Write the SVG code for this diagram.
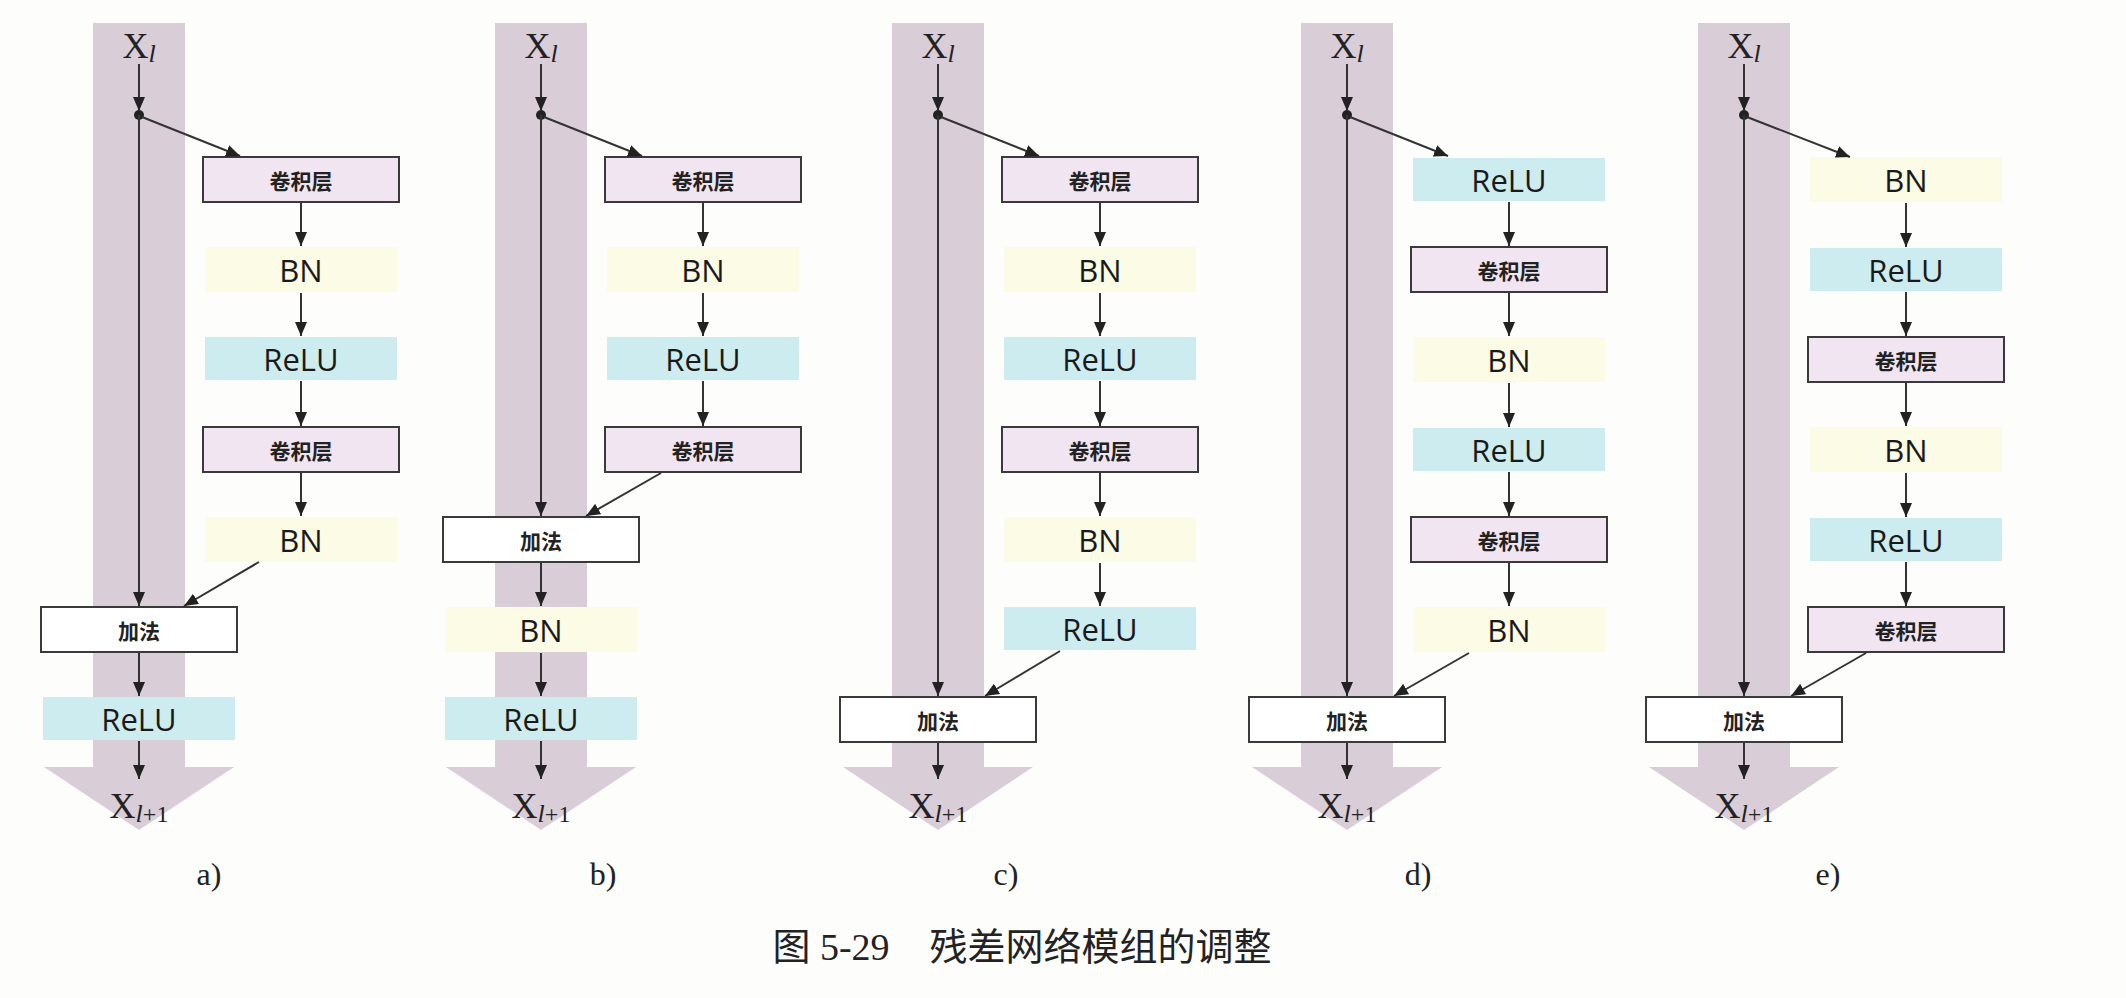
<svg xmlns="http://www.w3.org/2000/svg" width="2126" height="998" viewBox="0 0 2126 998">
<style>
.col{fill:#d9cdd8}
.conv{fill:#f0e5f0;stroke:#3a3a3a;stroke-width:2}
.add{fill:#ffffff;stroke:#3a3a3a;stroke-width:2}
.relu{fill:#cdecf0}
.bn{fill:#fbfbe6}
.cj{font-family:"Noto Sans CJK SC",sans-serif;font-weight:bold;font-size:21px;fill:#222;text-anchor:middle;dominant-baseline:central}
.en{font-family:"Open Sans","Noto Sans",sans-serif;font-size:31px;fill:#1a1a1a;text-anchor:middle;dominant-baseline:central}
.x{font-family:"Liberation Serif",serif;font-size:36px;fill:#222;text-anchor:middle}
.lab{font-family:"Liberation Serif",serif;font-size:32px;fill:#222;text-anchor:middle}
.ln{stroke:#333;stroke-width:2;fill:none;marker-end:url(#ah)}
.tit{font-family:"Liberation Serif","Noto Sans CJK SC",serif;font-size:38px;fill:#222;text-anchor:middle}
</style>
<defs>
<marker id="ah" viewBox="0 0 14 12" markerWidth="14" markerHeight="12" refX="14" refY="6" orient="auto" markerUnits="userSpaceOnUse"><path d="M0,0 L14,6 L0,12 z" fill="#222"/></marker>
</defs>
<rect width="2126" height="998" fill="#fdfdfc"/>

<g id="panel-a">
<rect class="col" x="93" y="23" width="92" height="744"/>
<polygon class="col" points="44,767 234,767 139,830"/>
<text class="x" x="139" y="58">X<tspan font-style="italic" font-size="26" dy="4">l</tspan></text>
<circle cx="139" cy="115" r="5" fill="#222"/>
<g id="a-conv1"><rect class="conv" x="203" y="157" width="196" height="45"/><text class="cj" x="301" y="180">卷积层</text></g>
<g id="a-bn1"><rect class="bn" x="205" y="247" width="192" height="45"/><text class="en" x="301" y="270">BN</text></g>
<g id="a-relu1"><rect class="relu" x="205" y="337" width="192" height="43"/><text class="en" x="301" y="359">ReLU</text></g>
<g id="a-conv2"><rect class="conv" x="203" y="427" width="196" height="45"/><text class="cj" x="301" y="450">卷积层</text></g>
<g id="a-bn2"><rect class="bn" x="205" y="517" width="192" height="45"/><text class="en" x="301" y="540">BN</text></g>
<g id="a-add"><rect class="add" x="41" y="607" width="196" height="45"/><text class="cj" x="139" y="630">加法</text></g>
<g id="a-relu2"><rect class="relu" x="43" y="697" width="192" height="43"/><text class="en" x="139" y="719">ReLU</text></g>
<text class="x" x="139" y="818">X<tspan font-style="italic" font-size="26" dy="4">l</tspan><tspan font-size="24">+1</tspan></text>
<text class="lab" x="209" y="885">a)</text>
</g>

<g id="panel-b">
<rect class="col" x="495" y="23" width="92" height="744"/>
<polygon class="col" points="446,767 636,767 541,830"/>
<text class="x" x="541" y="58">X<tspan font-style="italic" font-size="26" dy="4">l</tspan></text>
<circle cx="541" cy="115" r="5" fill="#222"/>
<g id="b-conv1"><rect class="conv" x="605" y="157" width="196" height="45"/><text class="cj" x="703" y="180">卷积层</text></g>
<g id="b-bn1"><rect class="bn" x="607" y="247" width="192" height="45"/><text class="en" x="703" y="270">BN</text></g>
<g id="b-relu1"><rect class="relu" x="607" y="337" width="192" height="43"/><text class="en" x="703" y="359">ReLU</text></g>
<g id="b-conv2"><rect class="conv" x="605" y="427" width="196" height="45"/><text class="cj" x="703" y="450">卷积层</text></g>
<g id="b-add"><rect class="add" x="443" y="517" width="196" height="45"/><text class="cj" x="541" y="540">加法</text></g>
<g id="b-bn2"><rect class="bn" x="445" y="607" width="192" height="45"/><text class="en" x="541" y="630">BN</text></g>
<g id="b-relu2"><rect class="relu" x="445" y="697" width="192" height="43"/><text class="en" x="541" y="719">ReLU</text></g>
<text class="x" x="541" y="818">X<tspan font-style="italic" font-size="26" dy="4">l</tspan><tspan font-size="24">+1</tspan></text>
<text class="lab" x="603" y="885">b)</text>
</g>

<g id="panel-c">
<rect class="col" x="892" y="23" width="92" height="744"/>
<polygon class="col" points="843,767 1033,767 938,830"/>
<text class="x" x="938" y="58">X<tspan font-style="italic" font-size="26" dy="4">l</tspan></text>
<circle cx="938" cy="115" r="5" fill="#222"/>
<g id="c-conv1"><rect class="conv" x="1002" y="157" width="196" height="45"/><text class="cj" x="1100" y="180">卷积层</text></g>
<g id="c-bn1"><rect class="bn" x="1004" y="247" width="192" height="45"/><text class="en" x="1100" y="270">BN</text></g>
<g id="c-relu1"><rect class="relu" x="1004" y="337" width="192" height="43"/><text class="en" x="1100" y="359">ReLU</text></g>
<g id="c-conv2"><rect class="conv" x="1002" y="427" width="196" height="45"/><text class="cj" x="1100" y="450">卷积层</text></g>
<g id="c-bn2"><rect class="bn" x="1004" y="517" width="192" height="45"/><text class="en" x="1100" y="540">BN</text></g>
<g id="c-relu2"><rect class="relu" x="1004" y="607" width="192" height="43"/><text class="en" x="1100" y="629">ReLU</text></g>
<g id="c-add"><rect class="add" x="840" y="697" width="196" height="45"/><text class="cj" x="938" y="720">加法</text></g>
<text class="x" x="938" y="818">X<tspan font-style="italic" font-size="26" dy="4">l</tspan><tspan font-size="24">+1</tspan></text>
<text class="lab" x="1006" y="885">c)</text>
</g>

<g id="panel-d">
<rect class="col" x="1301" y="23" width="92" height="744"/>
<polygon class="col" points="1252,767 1442,767 1347,830"/>
<text class="x" x="1347" y="58">X<tspan font-style="italic" font-size="26" dy="4">l</tspan></text>
<circle cx="1347" cy="115" r="5" fill="#222"/>
<g id="d-relu1"><rect class="relu" x="1413" y="158" width="192" height="43"/><text class="en" x="1509" y="180">ReLU</text></g>
<g id="d-conv1"><rect class="conv" x="1411" y="247" width="196" height="45"/><text class="cj" x="1509" y="270">卷积层</text></g>
<g id="d-bn1"><rect class="bn" x="1413" y="337" width="192" height="45"/><text class="en" x="1509" y="360">BN</text></g>
<g id="d-relu2"><rect class="relu" x="1413" y="428" width="192" height="43"/><text class="en" x="1509" y="450">ReLU</text></g>
<g id="d-conv2"><rect class="conv" x="1411" y="517" width="196" height="45"/><text class="cj" x="1509" y="540">卷积层</text></g>
<g id="d-bn2"><rect class="bn" x="1413" y="607" width="192" height="45"/><text class="en" x="1509" y="630">BN</text></g>
<g id="d-add"><rect class="add" x="1249" y="697" width="196" height="45"/><text class="cj" x="1347" y="720">加法</text></g>
<text class="x" x="1347" y="818">X<tspan font-style="italic" font-size="26" dy="4">l</tspan><tspan font-size="24">+1</tspan></text>
<text class="lab" x="1418" y="885">d)</text>
</g>

<g id="panel-e">
<rect class="col" x="1698" y="23" width="92" height="744"/>
<polygon class="col" points="1649,767 1839,767 1744,830"/>
<text class="x" x="1744" y="58">X<tspan font-style="italic" font-size="26" dy="4">l</tspan></text>
<circle cx="1744" cy="115" r="5" fill="#222"/>
<g id="e-bn1"><rect class="bn" x="1810" y="157" width="192" height="45"/><text class="en" x="1906" y="180">BN</text></g>
<g id="e-relu1"><rect class="relu" x="1810" y="248" width="192" height="43"/><text class="en" x="1906" y="270">ReLU</text></g>
<g id="e-conv1"><rect class="conv" x="1808" y="337" width="196" height="45"/><text class="cj" x="1906" y="360">卷积层</text></g>
<g id="e-bn2"><rect class="bn" x="1810" y="427" width="192" height="45"/><text class="en" x="1906" y="450">BN</text></g>
<g id="e-relu2"><rect class="relu" x="1810" y="518" width="192" height="43"/><text class="en" x="1906" y="540">ReLU</text></g>
<g id="e-conv2"><rect class="conv" x="1808" y="607" width="196" height="45"/><text class="cj" x="1906" y="630">卷积层</text></g>
<g id="e-add"><rect class="add" x="1646" y="697" width="196" height="45"/><text class="cj" x="1744" y="720">加法</text></g>
<text class="x" x="1744" y="818">X<tspan font-style="italic" font-size="26" dy="4">l</tspan><tspan font-size="24">+1</tspan></text>
<text class="lab" x="1828" y="885">e)</text>
</g>

<g id="connectors">
<line class="ln" x1="139" y1="64" x2="139" y2="111"/>
<line class="ln" x1="139" y1="115" x2="139" y2="606"/>
<line class="ln" x1="139" y1="653" x2="139" y2="696"/>
<line class="ln" x1="139" y1="741" x2="139" y2="779"/>
<line class="ln" x1="142" y1="117" x2="240" y2="156"/>
<line class="ln" x1="301" y1="203" x2="301" y2="246"/>
<line class="ln" x1="301" y1="293" x2="301" y2="336"/>
<line class="ln" x1="301" y1="381" x2="301" y2="426"/>
<line class="ln" x1="301" y1="473" x2="301" y2="516"/>
<line class="ln" x1="259" y1="562" x2="184" y2="606"/>
<line class="ln" x1="541" y1="64" x2="541" y2="111"/>
<line class="ln" x1="541" y1="115" x2="541" y2="516"/>
<line class="ln" x1="541" y1="563" x2="541" y2="606"/>
<line class="ln" x1="541" y1="653" x2="541" y2="696"/>
<line class="ln" x1="541" y1="741" x2="541" y2="779"/>
<line class="ln" x1="544" y1="117" x2="642" y2="156"/>
<line class="ln" x1="703" y1="203" x2="703" y2="246"/>
<line class="ln" x1="703" y1="293" x2="703" y2="336"/>
<line class="ln" x1="703" y1="381" x2="703" y2="426"/>
<line class="ln" x1="661" y1="473" x2="586" y2="516"/>
<line class="ln" x1="938" y1="64" x2="938" y2="111"/>
<line class="ln" x1="938" y1="115" x2="938" y2="696"/>
<line class="ln" x1="938" y1="743" x2="938" y2="779"/>
<line class="ln" x1="941" y1="117" x2="1039" y2="156"/>
<line class="ln" x1="1100" y1="203" x2="1100" y2="246"/>
<line class="ln" x1="1100" y1="293" x2="1100" y2="336"/>
<line class="ln" x1="1100" y1="381" x2="1100" y2="426"/>
<line class="ln" x1="1100" y1="473" x2="1100" y2="516"/>
<line class="ln" x1="1100" y1="563" x2="1100" y2="606"/>
<line class="ln" x1="1060" y1="651" x2="985" y2="696"/>
<line class="ln" x1="1347" y1="64" x2="1347" y2="111"/>
<line class="ln" x1="1347" y1="115" x2="1347" y2="696"/>
<line class="ln" x1="1347" y1="743" x2="1347" y2="779"/>
<line class="ln" x1="1350" y1="117" x2="1448" y2="156"/>
<line class="ln" x1="1509" y1="202" x2="1509" y2="246"/>
<line class="ln" x1="1509" y1="293" x2="1509" y2="336"/>
<line class="ln" x1="1509" y1="383" x2="1509" y2="427"/>
<line class="ln" x1="1509" y1="472" x2="1509" y2="516"/>
<line class="ln" x1="1509" y1="563" x2="1509" y2="606"/>
<line class="ln" x1="1469" y1="653" x2="1394" y2="696"/>
<line class="ln" x1="1744" y1="64" x2="1744" y2="111"/>
<line class="ln" x1="1744" y1="115" x2="1744" y2="696"/>
<line class="ln" x1="1744" y1="743" x2="1744" y2="779"/>
<line class="ln" x1="1747" y1="117" x2="1850" y2="157"/>
<line class="ln" x1="1906" y1="203" x2="1906" y2="247"/>
<line class="ln" x1="1906" y1="292" x2="1906" y2="336"/>
<line class="ln" x1="1906" y1="383" x2="1906" y2="426"/>
<line class="ln" x1="1906" y1="473" x2="1906" y2="517"/>
<line class="ln" x1="1906" y1="562" x2="1906" y2="606"/>
<line class="ln" x1="1866" y1="653" x2="1791" y2="696"/>
</g>

<text class="tit" x="1022" y="960">图 5-29<tspan dx="40">残差网络模组的调整</tspan></text>
</svg>
